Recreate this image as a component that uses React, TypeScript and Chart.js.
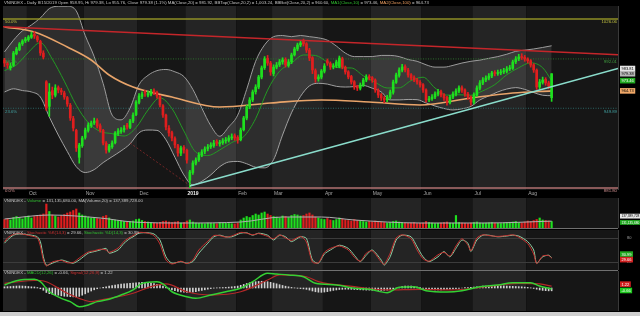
import React, { useEffect, useRef } from "react";
import { Chart, registerables } from "chart.js";
Chart.register(...registerables);

const FONT = '"Liberation Sans", Arial, sans-serif';
const X_MIN = -0.5;
const X_MAX = 205.2;
const GREEN = "#1ee01e";
const RED = "#e01e1e";
const GREY_TXT = "#c4c4c4";

const monthStartIdx = [8, 27, 45, 61, 78, 90, 107, 123, 140, 157, 175];
const monthLabels = ["Oct", "Nov", "Dec", "2019", "Feb", "Mar", "Apr", "May", "Jun", "Jul", "Aug"];

const closes = [
  988.5, 986.8, 986.0, 997.1, 1000.5, 1004.8, 1007.3, 1009.0, 1010.8, 1012.5,
  1011.6, 1008.2, 997.1, 993.7, 950.1, 963.8, 961.2, 967.2, 965.5, 963.8,
  959.5, 953.5, 941.6, 933.0, 916.0, 918.5, 924.5, 931.3, 935.6, 937.3,
  939.0, 934.7, 931.3, 920.2, 914.3, 917.7, 920.2, 928.8, 930.5, 931.3,
  933.0, 933.9, 939.0, 944.1, 955.2, 960.4, 962.1, 962.9, 962.5, 963.8,
  963.5, 960.4, 952.7, 944.1, 933.9, 928.8, 924.5, 918.5, 911.7, 916.0,
  914.3, 905.7, 895.5, 903.2, 905.7, 910.0, 912.6, 915.1, 916.8, 918.5,
  920.2, 920.0, 920.6, 922.0, 922.8, 924.5, 925.4, 924.5, 922.8, 931.3,
  941.6, 951.0, 957.0, 963.8, 968.0, 976.6, 984.3, 992.0, 988.5, 980.9,
  985.0, 986.8, 989.4, 991.1, 986.8, 989.4, 995.4, 1000.5, 1003.9, 1005.6,
  1004.8, 999.6, 992.8, 982.6, 974.9, 976.6, 981.7, 986.0, 988.5, 985.1,
  986.0, 989.4, 992.8, 985.1, 980.9, 976.6, 972.3, 968.0, 967.2, 969.8,
  974.0, 976.6, 975.7, 974.0, 965.5, 961.2, 958.7, 957.0, 959.5, 963.8,
  972.3, 978.3, 982.6, 985.1, 982.6, 978.3, 975.7, 974.0, 972.3, 969.8,
  965.5, 957.0, 957.8, 959.5, 962.1, 963.8, 961.2, 958.7, 955.2, 959.5,
  962.1, 964.6, 967.2, 965.5, 962.1, 959.5, 955.2, 961.2, 967.2, 971.5,
  974.0, 975.7, 977.4, 980.0, 979.6, 980.4, 980.9, 981.7, 983.4, 984.3,
  989.4, 992.0, 993.7, 993.2, 992.0, 990.3, 986.8, 982.6, 968.0, 972.3,
  974.0, 971.5, 968.7, 979.38,
];

const opens = [
  991.0, 988.0, 984.5, 986.5, 996.5, 1000.0, 1005.0, 1007.5, 1008.5, 1010.5,
  1013.0, 1011.0, 1007.0, 997.0, 972.5, 951.5, 965.0, 961.0, 967.5, 965.0,
  963.0, 959.0, 952.5, 941.0, 931.0, 908.0, 918.0, 925.0, 931.0, 935.0,
  937.5, 939.5, 935.0, 931.0, 920.0, 914.0, 917.0, 920.5, 928.0, 930.0,
  931.5, 935.5, 933.5, 939.0, 944.5, 955.0, 960.0, 963.5, 961.0, 962.0,
  965.0, 963.5, 960.0, 952.0, 944.0, 933.0, 929.0, 924.0, 918.0, 911.5,
  916.5, 914.0, 888.5, 895.0, 903.0, 906.0, 910.0, 913.0, 915.5, 917.0,
  918.0, 921.5, 919.5, 920.5, 922.0, 922.5, 924.5, 926.5, 925.0, 923.0,
  931.5, 941.5, 951.0, 957.0, 964.0, 968.0, 976.5, 984.5, 992.5, 988.5,
  979.5, 985.0, 987.0, 989.5, 991.5, 986.5, 989.5, 995.5, 1000.5, 1004.0,
  1007.0, 1005.0, 999.5, 993.0, 982.0, 975.0, 976.5, 981.5, 990.5, 988.0,
  985.0, 986.0, 985.5, 992.0, 985.0, 981.0, 977.0, 972.5, 968.0, 967.0,
  969.5, 974.0, 977.0, 976.0, 974.0, 965.0, 961.5, 958.5, 957.0, 959.5,
  963.5, 972.0, 978.0, 982.5, 985.5, 982.5, 978.5, 976.0, 974.0, 972.0,
  970.0, 965.5, 957.0, 958.0, 959.5, 962.0, 964.0, 961.5, 959.0, 955.0,
  959.5, 962.0, 964.5, 967.5, 965.5, 962.0, 959.5, 955.0, 961.0, 967.0,
  971.5, 974.0, 975.5, 977.5, 980.5, 979.5, 980.0, 981.0, 981.5, 983.5,
  984.0, 989.5, 992.0, 994.0, 993.5, 992.0, 990.5, 987.0, 982.5, 968.0,
  972.0, 974.5, 971.5, 958.95,
];

const highs = [
  992.5, 989.5, 988.5, 998.5, 1002.0, 1006.0, 1008.5, 1010.5, 1012.0, 1015.0,
  1015.5, 1012.0, 1008.0, 999.0, 973.5, 971.0, 968.0, 970.0, 969.0, 967.0,
  964.5, 960.0, 954.0, 943.0, 932.0, 920.0, 926.0, 933.0, 937.5, 939.0,
  941.5, 941.0, 936.5, 932.0, 921.5, 919.0, 922.0, 930.0, 932.5, 933.5,
  935.0, 937.0, 940.5, 946.0, 956.5, 962.5, 964.0, 965.5, 964.5, 966.0,
  966.5, 964.5, 961.0, 953.0, 945.0, 935.0, 930.5, 925.5, 919.0, 917.5,
  918.0, 915.0, 897.0, 905.0, 907.5, 912.0, 914.5, 917.0, 919.0, 920.5,
  922.5, 923.0, 922.5, 924.0, 925.0, 926.5, 928.0, 928.0, 926.5, 933.0,
  943.0, 952.5, 959.0, 965.5, 970.0, 978.0, 986.0, 994.0, 995.0, 990.0,
  987.0, 989.0, 991.5, 993.0, 993.0, 991.5, 997.0, 1002.0, 1005.5, 1007.5,
  1009.0, 1006.0, 1001.0, 994.0, 983.5, 978.5, 983.0, 988.0, 992.0, 989.5,
  988.0, 991.0, 994.5, 993.5, 986.0, 982.0, 978.0, 973.5, 969.5, 971.5,
  975.5, 978.5, 978.5, 977.0, 975.0, 966.5, 962.5, 960.0, 961.0, 965.5,
  974.0, 980.0, 984.5, 987.5, 987.0, 984.0, 979.5, 977.5, 975.5, 973.5,
  971.0, 966.5, 960.0, 961.5, 964.0, 966.0, 965.5, 962.5, 960.0, 961.0,
  964.0, 966.5, 969.0, 969.0, 966.5, 963.5, 960.5, 963.0, 969.0, 973.5,
  976.0, 977.5, 979.5, 981.5, 982.0, 982.5, 983.0, 984.0, 985.5, 986.5,
  991.0, 994.0, 996.0, 996.5, 995.0, 993.0, 991.5, 988.0, 983.5, 974.5,
  976.5, 976.0, 973.0, 979.38,
];

const lows = [
  985.5, 984.0, 982.5, 985.5, 995.5, 999.0, 1003.5, 1006.0, 1007.0, 1009.5,
  1009.5, 1006.5, 995.0, 992.0, 948.0, 943.0, 958.0, 959.5, 963.0, 961.5,
  957.5, 951.5, 939.5, 930.5, 913.0, 903.0, 916.5, 923.5, 929.5, 933.5,
  936.0, 933.0, 929.5, 918.5, 911.5, 912.5, 915.5, 919.5, 926.5, 928.5,
  929.5, 932.0, 932.5, 937.5, 943.5, 953.5, 958.0, 960.0, 959.5, 960.5,
  961.5, 958.5, 951.0, 942.0, 931.5, 926.0, 922.0, 916.0, 909.0, 909.5,
  911.5, 903.0, 882.0, 893.5, 901.5, 904.5, 908.5, 911.0, 913.5, 915.5,
  916.5, 918.0, 917.5, 919.0, 920.0, 921.0, 923.0, 922.5, 920.0, 922.0,
  930.5, 940.0, 949.5, 955.5, 962.0, 966.5, 975.0, 983.0, 986.5, 978.0,
  977.5, 983.5, 985.5, 987.5, 985.0, 985.0, 988.0, 994.5, 999.0, 1002.5,
  1003.0, 997.5, 990.5, 979.5, 972.0, 973.0, 975.0, 980.0, 986.5, 983.0,
  983.5, 984.5, 984.5, 983.5, 979.0, 975.0, 970.5, 966.0, 965.0, 965.5,
  968.5, 972.5, 974.0, 972.0, 963.5, 959.0, 956.5, 954.5, 955.5, 958.0,
  962.0, 971.0, 976.5, 981.0, 981.0, 976.5, 974.0, 972.5, 970.5, 968.0,
  963.5, 955.0, 955.5, 956.5, 958.0, 960.5, 959.5, 956.5, 952.5, 953.5,
  958.0, 960.5, 963.0, 963.5, 960.0, 957.5, 952.5, 953.5, 960.0, 965.5,
  970.0, 972.5, 974.0, 976.0, 977.5, 978.0, 978.5, 979.5, 980.0, 982.0,
  983.0, 988.0, 990.5, 991.5, 990.0, 988.5, 985.0, 980.5, 966.0, 966.5,
  970.5, 969.5, 966.5, 955.76,
];

// volume in millions of shares
const volumes = [
  170, 190, 160, 210, 230, 200, 180, 220, 240,
  200, 230, 250, 260, 280,
  480,
  330, 260, 240, 220, 250, 270, 300, 320, 350,
  380, 300, 260, 240, 220, 200, 210,
  190, 180, 230, 250, 200, 170, 160, 150, 140, 130, 120, 130, 140, 170,
  180, 150, 130, 120, 110, 100, 95, 110, 130, 140, 120, 110, 120, 130, 100, 110,
  140, 160, 120, 100, 95, 90, 85, 100, 95, 90, 85, 110, 100, 95, 90, 85, 80, 100,
  160, 200, 230, 210, 250, 280, 260, 300, 320, 280, 250, 230, 220, 200, 240, 230, 210, 250, 270, 260, 240, 250,
  280, 300, 260, 220, 200, 180, 170, 190, 160, 150, 170, 200, 180, 160, 150, 140, 170, 150, 140, 130, 120, 130, 120, 140, 130,
  120, 110, 100, 110, 130, 140, 120, 110, 100, 95, 100, 110, 90, 95, 100, 130, 110, 100, 90, 95, 100, 110, 120, 100, 95,
  250, 110, 100, 95, 90, 100, 110, 120, 100, 95, 100, 105, 110, 100, 95, 90, 100, 110, 115, 120, 130, 110, 100, 120, 140, 130, 150, 170, 200, 160, 150, 140, 131.14,
];

const bandIdx = [
  0, 3, 6, 9, 12, 15, 18, 21, 24, 27, 30, 33, 36, 39, 42, 45, 48, 51, 54, 57,
  60, 63, 66, 69, 72, 75, 78, 81, 84, 87, 90, 93, 96, 99, 102, 105, 108, 111, 114, 117,
  120, 123, 126, 129, 132, 135, 138, 141, 144, 147, 150, 153, 156, 159, 162, 165, 168, 171, 174, 177,
  180, 183,
];
const bbUpper = [
  998.0, 1008, 1016, 1021, 1027, 1035, 1037, 1037, 1033, 1012,
  994, 971, 944, 940, 950, 970, 978, 982, 983, 981,
  977, 966, 950, 935, 926, 934, 944, 966, 990, 1004,
  1011, 1012, 1011, 1012, 1011, 1010, 1008, 1003, 997, 994,
  994, 994, 995, 995, 994, 991.5, 990, 987, 985, 985,
  986.5, 988.5, 990, 991, 992.5, 994, 996, 998.5, 999.5, 1000.5,
  1001.8, 1003.24,
];
const bbLower = [
  963.8, 966.5, 965, 963.8, 959.5, 942.4, 927, 913, 900, 895,
  897.5, 903.5, 908.5, 913.5, 919.5, 929, 931.3, 931, 923, 908,
  893, 884.5, 887.5, 893, 900, 904, 904.5, 902.5, 899.5, 899,
  906, 927, 946, 960, 969, 971.2, 970.5, 968.6, 968, 968.4,
  969.3, 967, 963.8, 957, 957, 957.4, 957.2, 954.4, 951.8, 949.7,
  948.4, 949.4, 951.5, 957, 960.4, 963.8, 966.3, 967.5, 966, 963.3,
  961, 960.6,
];

const ma10Idx = [
  0, 4, 8, 12, 16, 20, 24, 28, 32, 36, 40, 44, 48, 52, 56, 60, 64, 68, 72, 76,
  80, 84, 88, 92, 96, 100, 104, 108, 112, 116, 120, 124, 128, 132, 136, 140, 144, 148, 152, 156,
  160, 164, 168, 172, 176, 180, 183,
];
const ma10 = [
  982, 987, 997.6, 1005.9, 991.8, 973.0, 952.5, 937.7, 930.1, 928.2,
  926.2, 933.4, 948.4, 958.8, 949.7, 930.5, 912.4, 909.5, 914.3, 920.6,
  925.6, 941.0, 965.4, 981.5, 988.5, 995.4, 995.0, 989.3, 984.4, 984.3,
  977.6, 972.0, 967.2, 967.3, 973.5, 976.4, 967.2, 961.1, 961.4, 961.0,
  964.8, 970.1, 978.5, 984.5, 988.7, 984.5, 973.46,
];

const ma100Idx = [0, 10, 21, 29, 35, 43, 56, 72, 89, 106, 122, 139, 156, 170, 183];
const ma100 = [1019.3, 1015.0, 1002.2, 991.1, 978.3, 968.0, 959.5, 951.0, 954.4, 957.0, 955.2, 952.7, 958.7, 962.9, 964.73];

const fibLabels = ["50.0%", "38.2%", "23.6%", "0.0%"];
const fibPrices = [1026.06, 992.01, 949.89, 881.8];

const resistanceIdx = [X_MIN, X_MAX];
const resistance = [1019.5, 995.5];
const supportIdx = [62, X_MAX];
const support = [883.5, 983.81];
const guideIdx = [42, 62];
const guide = [920.2, 884.0];

const volMaIdx = [0, 15, 32, 43, 60, 79, 93, 106, 117, 139, 161, 183];
const volMa = [180, 260, 200, 120, 100, 120, 220, 220, 160, 100, 100, 137.39];

const stochIdx = [
  0, 1, 3, 5, 9, 11, 12, 13, 14, 16, 19, 21, 23, 25, 28, 30, 32, 34, 35, 38,
  40, 42, 43, 45, 48, 50, 52, 54, 56, 59, 61, 63, 65, 68, 70, 72, 74, 76, 79, 81,
  83, 85, 88, 90, 92, 94, 96, 99, 101, 103, 105, 107, 109, 112, 115, 117, 119, 121, 123, 126,
  127, 129, 131, 133, 136, 138, 140, 142, 145, 147, 149, 151, 153, 155, 156, 158, 160, 162, 165, 168,
  170, 172, 175, 177, 178, 180, 182, 183,
];
const stochK = [
  70, 80, 89, 91, 85, 80, 60, 25, 10, 20, 24, 18, 19, 30, 45, 48, 52, 50, 44, 55,
  72, 82, 86, 94, 92, 86, 65, 25, 15, 22, 16, 25, 50, 72, 86, 86, 82, 85, 94, 92,
  88, 91, 84, 78, 88, 80, 74, 84, 70, 20, 18, 44, 54, 60, 50, 32, 22, 42, 48, 20,
  14, 42, 80, 88, 78, 50, 28, 22, 38, 44, 35, 60, 78, 62, 48, 80, 88, 86, 84, 86,
  88, 82, 66, 40, 16, 35, 36, 29.66,
];
const stochD = [
  67, 75, 87, 90, 87, 83, 71, 33, 12, 17, 25, 21, 17, 25, 42, 46, 50, 54, 42, 50,
  67, 79, 83, 92, 93, 90, 75, 33, 17, 21, 17, 21, 42, 67, 83, 87, 83, 83, 92, 93,
  87, 92, 87, 75, 87, 83, 71, 83, 79, 25, 17, 40, 50, 62, 54, 37, 21, 37, 50, 25,
  12, 33, 75, 87, 83, 58, 33, 21, 33, 46, 33, 54, 75, 67, 46, 75, 87, 87, 83, 85,
  87, 85, 71, 50, 17, 33, 37, 30.99,
];
const stochLevels = [80, 20];

const macdIdx = [
  0, 4, 10, 12, 15, 19, 22, 25, 28, 31, 35, 39, 43, 46, 51, 53, 56, 61, 64, 69,
  74, 79, 83, 88, 91, 95, 100, 104, 111, 117, 122, 128, 132, 137, 141, 148, 153, 159, 165, 170,
  176, 179, 183,
];
const macd = [
  2.0, 4.9, 5.8, 4.2, -2.5, -6.9, -9.1, -12.5, -11.3, -9.1,
  -7.5, -4.7, -1.3, 3.1, 4.2, 2.7, -2.5, -5.8, -6.9, -4.7,
  -2.5, -0.2, 4.2, 9.8, 9.3, 8.7, 7.5, 3.1, 2.0, -0.2,
  -0.9, -3.1, 0.5, 0.9, -1.8, -2.7, -1.8, 0.9, 2.0, 3.5,
  3.5, 1.3, -0.66,
];
const signalIdx = [0, 4, 10, 12, 21, 25, 29, 32, 43, 49, 54, 61, 69, 79, 88, 92, 101, 105, 117, 128, 139, 150, 161, 172, 179, 183];
const signal = [3.1, 4.0, 5.0, 5.0, -3.5, -6.9, -9.1, -8.0, -3.5, 0.9, 2.7, -2.5, -4.7, -2.5, 5.3, 8.7, 7.5, 4.2, 0.9, -1.3, -0.9, -1.3, 0.9, 3.1, 2.7, 1.22];
const macdHist = [
  0.8, 0.9, 1.0, 1.2, 1.3, 1.4, 1.3, 1.2, 1.0, 0.8, 0.7, 0.3, -0.5,
  -1.5, -3.0, -3.8, -4.2, -4.5, -4.8, -5.2, -5.5, -5.6, -5.8, -5.9, -6.0, -5.6,
  -4.8, -3.9, -2.9, -2.0, -1.2, -0.5, 0.0, 0.4, 0.8, 1.2, 1.6, 2.0, 2.3, 2.6, 2.8, 3.0, 3.1, 3.2,
  3.4, 3.6, 3.7, 3.6, 3.4, 3.2, 2.9, 2.5, 2.0, 1.3, 0.5, -0.4,
  -1.2, -1.8, -2.3, -2.6, -2.8, -3.0, -2.9, -2.7, -2.4, -2.0, -1.6, -1.2, -0.8, -0.4, -0.1, 0.1, 0.2, 0.3, 0.4, 0.6,
  0.8, 1.0, 1.3, 1.8, 2.4, 3.0, 3.5, 3.9, 4.2, 4.4, 4.5, 4.4, 4.2, 3.8, 3.3, 2.8, 2.2, 1.7, 1.2, 0.8, 0.4, 0.1, -0.2, -0.4, -0.6,
  -0.9, -1.4, -2.0, -2.5, -2.8, -2.9, -2.7, -2.4, -2.0, -1.6, -1.3, -1.0, -0.9, -0.8, -0.8, -0.9, -1.0, -1.1, -1.2, -1.3, -1.4, -1.4, -1.5, -1.5, -1.6,
  -1.6, -1.5, -1.4, -1.0, -0.5, 0.0, 0.5, 0.9, 1.2, 1.3, 1.2, 1.0, 0.6, 0.2, -0.2, -0.6, -0.9, -1.1, -1.2, -1.2, -1.2, -1.1, -1.0, -0.8, -0.6,
  -0.4, -0.2, 0.0, 0.2, 0.3, 0.4, 0.6, 0.8, 1.0, 1.2, 1.3, 1.4, 1.5, 1.5, 1.5, 1.4, 1.4, 1.3, 1.2, 1.1, 1.0, 0.9, 0.8, 0.6, 0.4, 0.1, -0.3, -0.8, -1.3, -1.6, -1.8, -1.9, -1.88,
];

const pts = (xs: number[], ys: number[]) => xs.map((x, i) => ({ x, y: ys[i] }));
const candleColor = (c: any) => (closes[c.dataIndex] >= opens[c.dataIndex] ? GREEN : RED);

function drawSegments(ctx: any, x: number, y: number, segs: [string, string][], size: number) {
  ctx.font = `${size}px ${FONT}`;
  ctx.textBaseline = "middle";
  ctx.textAlign = "left";
  for (const [t, c] of segs) {
    ctx.fillStyle = c;
    ctx.fillText(t, x, y);
    x += ctx.measureText(t).width;
  }
}

function valueBox(ctx: any, text: string, x: number, yc: number, bg: string, fg: string, size = 4) {
  ctx.font = `${size}px ${FONT}`;
  const w = ctx.measureText(text).width + 3;
  const h = size + 1.6;
  ctx.fillStyle = bg;
  ctx.fillRect(x, yc - h / 2, w, h);
  ctx.fillStyle = fg;
  ctx.textBaseline = "middle";
  ctx.textAlign = "left";
  ctx.fillText(text, x + 1.5, yc + 0.3);
}

const bandsPlugin = {
  id: "bands",
  beforeDraw(chart: any) {
    const { ctx, chartArea: a, scales } = chart;
    const xs = scales.x;
    ctx.save();
    ctx.fillStyle = "#000";
    ctx.fillRect(0, 0, chart.width, chart.height);
    const edges = [X_MIN, ...monthStartIdx.map((i) => i - 0.5), X_MAX];
    for (let k = 0; k < edges.length - 1; k++) {
      const x0 = Math.max(a.left, xs.getPixelForValue(edges[k]));
      const x1 = Math.min(a.right, xs.getPixelForValue(edges[k + 1]));
      ctx.fillStyle = k % 2 === 0 ? "#242424" : "#161616";
      ctx.fillRect(x0, a.top, x1 - x0, a.bottom - a.top);
    }
    ctx.strokeStyle = "#3a3a3a";
    ctx.lineWidth = 1;
    ctx.beginPath();
    ctx.moveTo(Math.round(a.right) + 0.5, a.top);
    ctx.lineTo(Math.round(a.right) + 0.5, a.bottom);
    ctx.stroke();
    ctx.restore();
  },
};

const baseOptions = (ymin: number, ymax: number, padding: any, extra: any = {}) => ({
  responsive: false,
  maintainAspectRatio: false,
  animation: false,
  devicePixelRatio: 1,
  events: [],
  layout: { padding },
  plugins: { legend: { display: false }, tooltip: { enabled: false }, title: { display: false } },
  scales: {
    x: { type: "linear", min: X_MIN, max: X_MAX, display: false, offset: false, grid: { display: false } },
    y: { type: "linear", min: ymin, max: ymax, display: false, grid: { display: false } },
  },
  ...extra,
});

const lineDs = (data: any[], color: string, width: number, order: number, extra: any = {}) => ({
  type: "line",
  data,
  borderColor: color,
  borderWidth: width,
  pointRadius: 0,
  fill: false,
  order,
  cubicInterpolationMode: "monotone",
  ...extra,
});

function priceConfig(): any {
  const fibLine = ["#8f8f26", "#2c6e2c", "#2a6464", "#b07070"];
  const fibText = ["#c0c040", "#40a040", "#40a0a0", "#d09090"];
  const textPlugin = {
    id: "priceText",
    afterDraw(chart: any) {
      const { ctx, chartArea: a, scales } = chart;
      const xs = scales.x;
      const ys = scales.y;
      ctx.save();
      drawSegments(ctx, a.left + 1, 3, [
        ["VNINDEX - Daily 8/15/2019 Open 958.95, Hi 979.38, Lo 955.76, Close 979.38 (1.1%) MA(Close,20) = 981.92, BBTop(Close,20,2) = 1,003.24, BBBot(Close,20,2) = 960.60, ", GREY_TXT],
        ["MA1(Close,10)", "#30c030"],
        [" = 973.46, ", GREY_TXT],
        ["MA2(Close,100)", "#f0a060"],
        [" = 964.73", GREY_TXT],
      ], 4.3);
      fibPrices.forEach((p, k) => {
        const y = ys.getPixelForValue(p);
        ctx.font = `4.3px ${FONT}`;
        ctx.fillStyle = fibText[k];
        ctx.textBaseline = "top";
        ctx.textAlign = "left";
        ctx.fillText(fibLabels[k], a.left + 2, y + 1);
        ctx.textAlign = "right";
        ctx.fillText(p.toFixed(2), a.right - 1, y + 1);
      });
      monthStartIdx.forEach((idx, k) => {
        const x = xs.getPixelForValue(idx - 0.5) + 2;
        const bold = monthLabels[k] === "2019";
        ctx.font = `${bold ? "bold " : ""}5px ${FONT}`;
        ctx.fillStyle = bold ? "#f0f0f0" : "#a8a8a8";
        ctx.textBaseline = "middle";
        ctx.textAlign = "left";
        ctx.fillText(monthLabels[k], x, a.bottom + 4);
      });
      const bx = a.right + 2;
      valueBox(ctx, support[support.length - 1].toFixed(2), bx, ys.getPixelForValue(support[support.length - 1]), "#e6e6e6", "#000");
      valueBox(ctx, closes[closes.length - 1].toFixed(2), bx, ys.getPixelForValue(closes[closes.length - 1]), "#b8b8b8", "#000");
      valueBox(ctx, ma10[ma10.length - 1].toFixed(2), bx, ys.getPixelForValue(ma10[ma10.length - 1]), "#1fa81f", "#fff");
      valueBox(ctx, ma100[ma100.length - 1].toFixed(2), bx, ys.getPixelForValue(ma100[ma100.length - 1]), "#f0a868", "#000");
      ctx.restore();
    },
  };
  const datasets: any[] = [
    lineDs(pts(bandIdx, bbUpper), "#9c9c9c", 1, 10, { fill: "+1", backgroundColor: "rgba(255,255,255,0.10)" }),
    lineDs(pts(bandIdx, bbLower), "#9c9c9c", 1, 10),
    ...fibPrices.map((p, k) =>
      lineDs(pts([X_MIN, X_MAX], [p, p]), fibLine[k], k === 0 || k === 3 ? 1.5 : 1, 9, k === 1 || k === 2 ? { borderDash: [1, 1.5] } : {})
    ),
    lineDs(pts(ma100Idx, ma100), "#e8a46a", 1.6, 6),
    lineDs(pts(ma10Idx, ma10), "#239a23", 1, 5),
    {
      type: "bar",
      data: lows.map((l, i) => ({ x: i, y: [l, highs[i]] })),
      backgroundColor: candleColor,
      barThickness: 1,
      grouped: false,
      order: 3,
    },
    {
      type: "bar",
      data: closes.map((c, i) => ({ x: i, y: [opens[i], c] })),
      backgroundColor: candleColor,
      barThickness: 2,
      minBarLength: 1,
      grouped: false,
      order: 2,
    },
    lineDs(pts(guideIdx, guide), "rgba(190,50,50,0.55)", 1, 1, { borderDash: [2, 2] }),
    lineDs(pts(resistanceIdx, resistance), "#c4262a", 1.5, 1),
    lineDs(pts(supportIdx, support), "#8adccb", 1.6, 1),
  ];
  return {
    type: "bar",
    data: { datasets },
    options: baseOptions(880.1, 1037.2, { top: 6, bottom: 8, left: 3, right: 22 }),
    plugins: [bandsPlugin, textPlugin],
  };
}

function volumeConfig(): any {
  const textPlugin = {
    id: "volText",
    afterDraw(chart: any) {
      const { ctx, chartArea: a, scales } = chart;
      const ys = scales.y;
      ctx.save();
      drawSegments(ctx, a.left + 1, a.top + 2.5, [
        ["VNINDEX - ", GREY_TXT],
        ["Volume", "#30c030"],
        [" = 131,135,680.00, MA(Volume,20) = 137,389,728.00", GREY_TXT],
      ], 4.3);
      const bx = a.right + 2;
      valueBox(ctx, "137,389,728", bx, ys.getPixelForValue(volMa[volMa.length - 1]) - 5, "#e6e6e6", "#000", 3.2);
      valueBox(ctx, "131,135,680", bx, ys.getPixelForValue(volumes[volumes.length - 1]) + 1, "#1fa81f", "#fff", 3.2);
      ctx.strokeStyle = "#707070";
      ctx.lineWidth = 1;
      ctx.beginPath();
      ctx.moveTo(a.left, a.bottom + 0.5);
      ctx.lineTo(a.right, a.bottom + 0.5);
      ctx.stroke();
      ctx.restore();
    },
  };
  return {
    type: "bar",
    data: {
      datasets: [
        lineDs(pts(volMaIdx, volMa), "#b0b0b0", 1, 1),
        {
          type: "bar",
          data: volumes.map((v, i) => ({ x: i, y: v })),
          backgroundColor: candleColor,
          barThickness: 1.5,
          grouped: false,
          order: 2,
        },
      ],
    },
    options: baseOptions(0, 600, { top: 1, bottom: 1, left: 3, right: 22 }),
    plugins: [bandsPlugin, textPlugin],
  };
}

function stochConfig(): any {
  const gridPlugin = {
    id: "stochGrid",
    beforeDatasetsDraw(chart: any) {
      const { ctx, chartArea: a, scales } = chart;
      ctx.save();
      ctx.strokeStyle = "#3c3c3c";
      ctx.lineWidth = 1;
      stochLevels.forEach((lv) => {
        const y = Math.round(scales.y.getPixelForValue(lv)) + 0.5;
        ctx.beginPath();
        ctx.moveTo(a.left, y);
        ctx.lineTo(a.right, y);
        ctx.stroke();
      });
      ctx.restore();
    },
    afterDraw(chart: any) {
      const { ctx, chartArea: a, scales } = chart;
      const ys = scales.y;
      ctx.save();
      drawSegments(ctx, a.left + 1, a.top + 2.5, [
        ["VNINDEX - ", GREY_TXT],
        ["Stochastic %K(14,3)", "#d03030"],
        [" = 29.66, ", GREY_TXT],
        ["Stochastic %D(14,3)", "#30c030"],
        [" = 30.99", GREY_TXT],
      ], 4.3);
      ctx.font = `4px ${FONT}`;
      ctx.fillStyle = "#a0a0a0";
      ctx.textAlign = "left";
      ctx.textBaseline = "middle";
      stochLevels.forEach((lv) => ctx.fillText(String(lv), a.right + 9, ys.getPixelForValue(lv)));
      const bx = a.right + 2;
      valueBox(ctx, stochD[stochD.length - 1].toFixed(2), bx, ys.getPixelForValue(stochD[stochD.length - 1]) - 3.5, "#1fa81f", "#fff");
      valueBox(ctx, stochK[stochK.length - 1].toFixed(2), bx, ys.getPixelForValue(stochK[stochK.length - 1]) + 1.5, "#d02020", "#fff");
      ctx.strokeStyle = "#707070";
      ctx.lineWidth = 1;
      ctx.beginPath();
      ctx.moveTo(a.left, a.bottom + 0.5);
      ctx.lineTo(a.right, a.bottom + 0.5);
      ctx.stroke();
      ctx.restore();
    },
  };
  return {
    type: "line",
    data: {
      datasets: [
        lineDs(pts(stochIdx, stochD), "#8fd0a4", 1, 2, { cubicInterpolationMode: "default", tension: 0.25 }),
        lineDs(pts(stochIdx, stochK), "#c83030", 1, 1, { cubicInterpolationMode: "default", tension: 0.25 }),
      ],
    },
    options: baseOptions(0, 100, { top: 1, bottom: 1, left: 3, right: 22 }),
    plugins: [bandsPlugin, gridPlugin],
  };
}

function macdConfig(): any {
  const textPlugin = {
    id: "macdText",
    afterDraw(chart: any) {
      const { ctx, chartArea: a, scales } = chart;
      const ys = scales.y;
      ctx.save();
      drawSegments(ctx, a.left + 1, a.top + 2, [
        ["VNINDEX - ", GREY_TXT],
        ["MACD(12,26)", "#30c030"],
        [" = -0.66, ", GREY_TXT],
        ["Signal(12,26,9)", "#d03030"],
        [" = 1.22", GREY_TXT],
      ], 4.3);
      const bx = a.right + 2;
      valueBox(ctx, signal[signal.length - 1].toFixed(2), bx, ys.getPixelForValue(signal[signal.length - 1]) - 2, "#d02020", "#fff");
      valueBox(ctx, macd[macd.length - 1].toFixed(2), bx, ys.getPixelForValue(macd[macd.length - 1]) + 1.5, "#1fc81f", "#fff");
      ctx.restore();
    },
  };
  return {
    type: "bar",
    data: {
      datasets: [
        {
          type: "bar",
          data: macdHist.map((v, i) => ({ x: i, y: v })),
          backgroundColor: "#d0d0d0",
          barThickness: 1,
          grouped: false,
          order: 3,
        },
        lineDs(pts(signalIdx, signal), "#b42828", 1.2, 2),
        lineDs(pts(macdIdx, macd), "#34d034", 1.5, 1),
      ],
    },
    options: baseOptions(-15.33, 11.33, { top: 0, bottom: 1, left: 3, right: 22 }),
    plugins: [bandsPlugin, textPlugin],
  };
}

export default function App() {
  const r1 = useRef<HTMLCanvasElement>(null);
  const r2 = useRef<HTMLCanvasElement>(null);
  const r3 = useRef<HTMLCanvasElement>(null);
  const r4 = useRef<HTMLCanvasElement>(null);

  useEffect(() => {
    const charts = [
      new Chart(r1.current as HTMLCanvasElement, priceConfig()),
      new Chart(r2.current as HTMLCanvasElement, volumeConfig()),
      new Chart(r3.current as HTMLCanvasElement, stochConfig()),
      new Chart(r4.current as HTMLCanvasElement, macdConfig()),
    ];
    return () => charts.forEach((c) => c.destroy());
  }, []);

  const cv = (top: number, h: number): React.CSSProperties => ({
    position: "absolute",
    left: 0,
    top,
    width: 640,
    height: h,
    display: "block",
  });

  return (
    <div style={{ position: "fixed", left: 0, top: 0, width: 640, height: 316, background: "#cfcfcf", overflow: "hidden" }}>
      <canvas ref={r1} width={640} height={198} style={cv(0, 198)} />
      <canvas ref={r2} width={640} height={32} style={cv(197, 32)} />
      <canvas ref={r3} width={640} height={42} style={cv(229, 42)} />
      <canvas ref={r4} width={640} height={41} style={cv(271, 41)} />
    </div>
  );
}
